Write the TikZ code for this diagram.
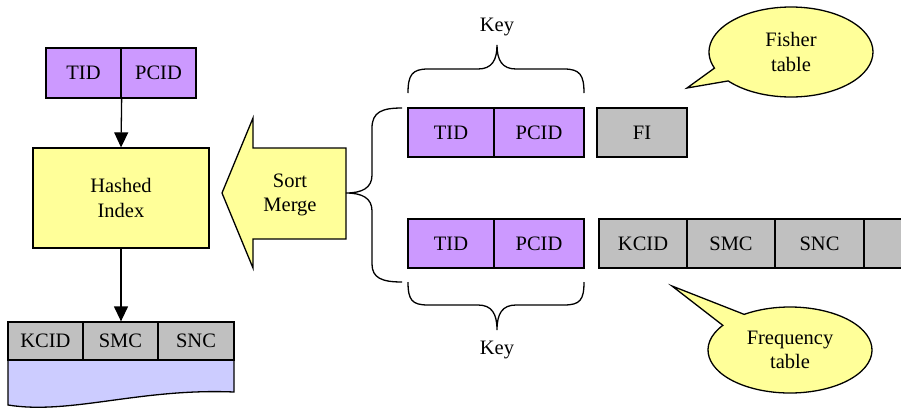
\documentclass[tikz,border=0pt]{standalone}
\usepackage{fontspec}
\setmainfont{Liberation Serif}
\usetikzlibrary{arrows.meta,calc}
\definecolor{keypurple}{HTML}{CC99FF}
\definecolor{noteyellow}{HTML}{FFFF99}
\definecolor{fieldgray}{HTML}{C0C0C0}
\definecolor{pagelav}{HTML}{CCCCFF}

\begin{document}
\begin{tikzpicture}[x=1pt,y=1pt,
  every node/.style={font=\fontsize{20.5}{24.5}\selectfont},
  cell/.style={draw,line width=1.3pt,inner sep=0pt},
  keycell/.style={cell,fill=keypurple},
  datacell/.style={cell,fill=fieldgray},
  flow/.style={-{Triangle[length=15pt,width=14pt]},line width=1.3pt},
  bubble/.style={draw,line width=1.3pt,fill=noteyellow},
  bracket/.style={draw,line width=1.3pt}]

\clip (0,0) rectangle (901,-413);
\fill[white] (0,0) rectangle (901,-413);

% ---- index side ----
\node[keycell,minimum width=75pt,minimum height=50pt] (tid0) at (83.5,-73) {TID};
\node[keycell,minimum width=75pt,minimum height=50pt] (pcid0) at (158.5,-73) {PCID};
\node[cell,fill=noteyellow,minimum width=176pt,minimum height=100pt,align=center] (hash) at (121,-198) {Hashed\\Index};

% page under the result table
\draw[line width=1.3pt,fill=pagelav] (8,-360) -- (8,-405)
  .. controls (70,-415) and (140,-388) .. (234,-392) -- (234,-360) -- cycle;
\node[datacell,minimum width=75pt,minimum height=38pt] (kc0) at (45.5,-341) {KCID};
\node[datacell,minimum width=75pt,minimum height=38pt] (sm0) at (120.5,-341) {SMC};
\node[datacell,minimum width=76pt,minimum height=38pt] (sn0) at (196,-341) {SNC};

\draw[flow] (tid0.south east) -- (hash.north);
\draw[flow] (hash.south) -- (hash.south |- sm0.north);

% ---- sort merge block arrow ----
\draw[line width=1.3pt,fill=noteyellow] (222,-193) -- (253,-118) -- (253,-148) -- (346,-148)
  -- (346,-239) -- (253,-239) -- (253,-268) -- cycle;
\node[align=center] (merge) at (290,-195) {Sort\\Merge};

% brace gathering both tables
\draw[bracket] (402,-108) .. controls (382,-108) and (372,-112) .. (372,-128) -- (372,-175)
  .. controls (372,-188) and (362,-193) .. (346,-193)
  .. controls (362,-193) and (372,-198) .. (372,-211) -- (372,-264)
  .. controls (372,-278) and (382,-282) .. (402,-282);

% ---- fisher table row ----
\node[keycell,minimum width=86pt,minimum height=49pt] (tid1) at (451,-132.5) {TID};
\node[keycell,minimum width=90pt,minimum height=49pt] (pcid1) at (539,-132.5) {PCID};
\node[datacell,minimum width=90pt,minimum height=49pt] (fi1) at (642,-132.5) {FI};

% ---- frequency table row ----
\node[keycell,minimum width=86pt,minimum height=49pt] (tid2) at (451,-243.5) {TID};
\node[keycell,minimum width=90pt,minimum height=49pt] (pcid2) at (539,-243.5) {PCID};
\node[datacell,minimum width=88pt,minimum height=49pt] (kc2) at (643,-243.5) {KCID};
\node[datacell,minimum width=88pt,minimum height=49pt] (sm2) at (731,-243.5) {SMC};
\node[datacell,minimum width=89pt,minimum height=49pt] (sn2) at (819.5,-243.5) {SNC};
\node[datacell,minimum width=88pt,minimum height=49pt] (more2) at (908,-243.5) {};

% key braces
\draw[bracket] (408,-93) .. controls (408,-75) and (412,-69) .. (428,-69) -- (478,-69)
  .. controls (492,-69) and (497,-60) .. (497,-45)
  .. controls (497,-60) and (502,-69) .. (516,-69) -- (564,-69)
  .. controls (580,-69) and (584,-75) .. (584,-93);
\node (key1) at (497,-27) {Key};

\draw[bracket] (408,-282) .. controls (408,-300) and (412,-305) .. (428,-305) -- (478,-305)
  .. controls (492,-305) and (497,-314) .. (497,-330)
  .. controls (497,-314) and (502,-305) .. (516,-305) -- (564,-305)
  .. controls (580,-305) and (584,-300) .. (584,-282);
\node (key2) at (497,-350) {Key};

% ---- callouts ----
\coordinate (fc) at (791,-52);
\draw[bubble] (687,-88) -- ($(fc)+(220:82pt and 45pt)$)
  arc[start angle=220,end angle=561,x radius=82pt,y radius=45pt] -- cycle;
\node[align=center] (fisher) at (fc) {Fisher\\table};

\coordinate (qc) at (790,-350);
\draw[bubble] (672,-286) -- ($(qc)+(145:82pt and 43pt)$)
  arc[start angle=145,end angle=484,x radius=82pt,y radius=43pt] -- cycle;
\node[align=center] (freq) at (qc) {Frequency\\table};
\end{tikzpicture}
\end{document}
